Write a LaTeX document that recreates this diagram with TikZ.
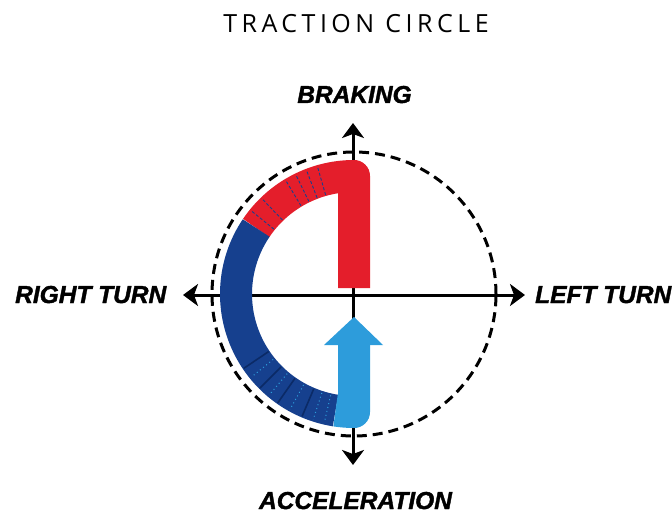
\documentclass[tikz,border=0pt]{standalone}
\usepackage{fontspec}
\usetikzlibrary{arrows.meta}
\newfontfamily\titlefont[LetterSpace=18]{Open Sans}
\newfontfamily\heavyfont[FakeBold=1.5]{Liberation Sans Bold Italic}
\definecolor{tcred}{HTML}{E41E2B}
\definecolor{tcdark}{HTML}{16408E}
\definecolor{tclight}{HTML}{2D9CDB}
\definecolor{tcnavy}{HTML}{0B2A66}
\tikzset{
  axisline/.style={line width=3pt, black, {Stealth[length=15pt,width=22pt,inset=4pt]}-{Stealth[length=15pt,width=22pt,inset=4pt]}},
  limitcircle/.style={line width=3pt, black, dash pattern=on 10pt off 6pt},
  band/.style={line width=32pt, line cap=butt},
  dirlabel/.style={font=\heavyfont\fontsize{24.5}{24.5}\selectfont, inner sep=0pt, text=black},
  redstripe/.style={line width=0.9pt, tcdark, dash pattern=on 3pt off 2pt},
  navystripe/.style={line width=1.6pt, tcnavy},
  dotstripe/.style={line width=1pt, tclight, dash pattern=on 1pt off 3pt},
}
\begin{document}
\begin{tikzpicture}[x=1pt,y=1pt]
\useasboundingbox (0,0) rectangle (672,-513);
\coordinate (O) at (354,-294);
\coordinate (L) at (183,-295);
\coordinate (R) at (525,-295);
\coordinate (T) at (353,-123);
\coordinate (B) at (353,-465);
% title
\node[font=\titlefont\fontsize{25}{25}\selectfont, anchor=base, inner sep=0pt] (title) at (356,-33) {TRACTION CIRCLE};
% friction limit
\draw[limitcircle] (O) circle[radius=142];
% axes
\draw[axisline] (L) -- (R);
\draw[axisline] (T) -- (B);
% bands
\draw[band, tcred, line join=round] (O) ++(146:118) arc[start angle=146, end angle=90, radius=118] -- (354,-288);
\draw[band, tcdark] (O) ++(146:118) arc[start angle=146, end angle=261, radius=118];
\draw[band, tclight, line join=round] (O) ++(261:118) arc[start angle=261, end angle=270, radius=118] -- (354,-345);
\fill[tclight] (324,-345) -- (383,-345) -- (354,-317) -- cycle;
% stripes in red part
\foreach \a in {106,111,116,121,134,141}{
  \draw[redstripe] (O) ++(\a:103) -- ++(\a:30);
}
% stripes in dark blue part
\foreach \a in {214,225,235,247}{
  \draw[navystripe] (O) ++(\a:103) -- ++(\a:30);
}
\foreach \a in {219,230,241,252,257}{
  \draw[dotstripe] (O) ++(\a:104) -- ++(\a:28);
}
% labels
\node[dirlabel, anchor=base] (brake) at (354.5,-103) {BRAKING};
\node[dirlabel, anchor=base] (accel) at (355.5,-509) {ACCELERATION};
\node[dirlabel, anchor=base west] (rturn) at (15,-303) {RIGHT TURN};
\node[dirlabel, anchor=base west] (lturn) at (535,-303) {LEFT TURN};
\end{tikzpicture}
\end{document}
